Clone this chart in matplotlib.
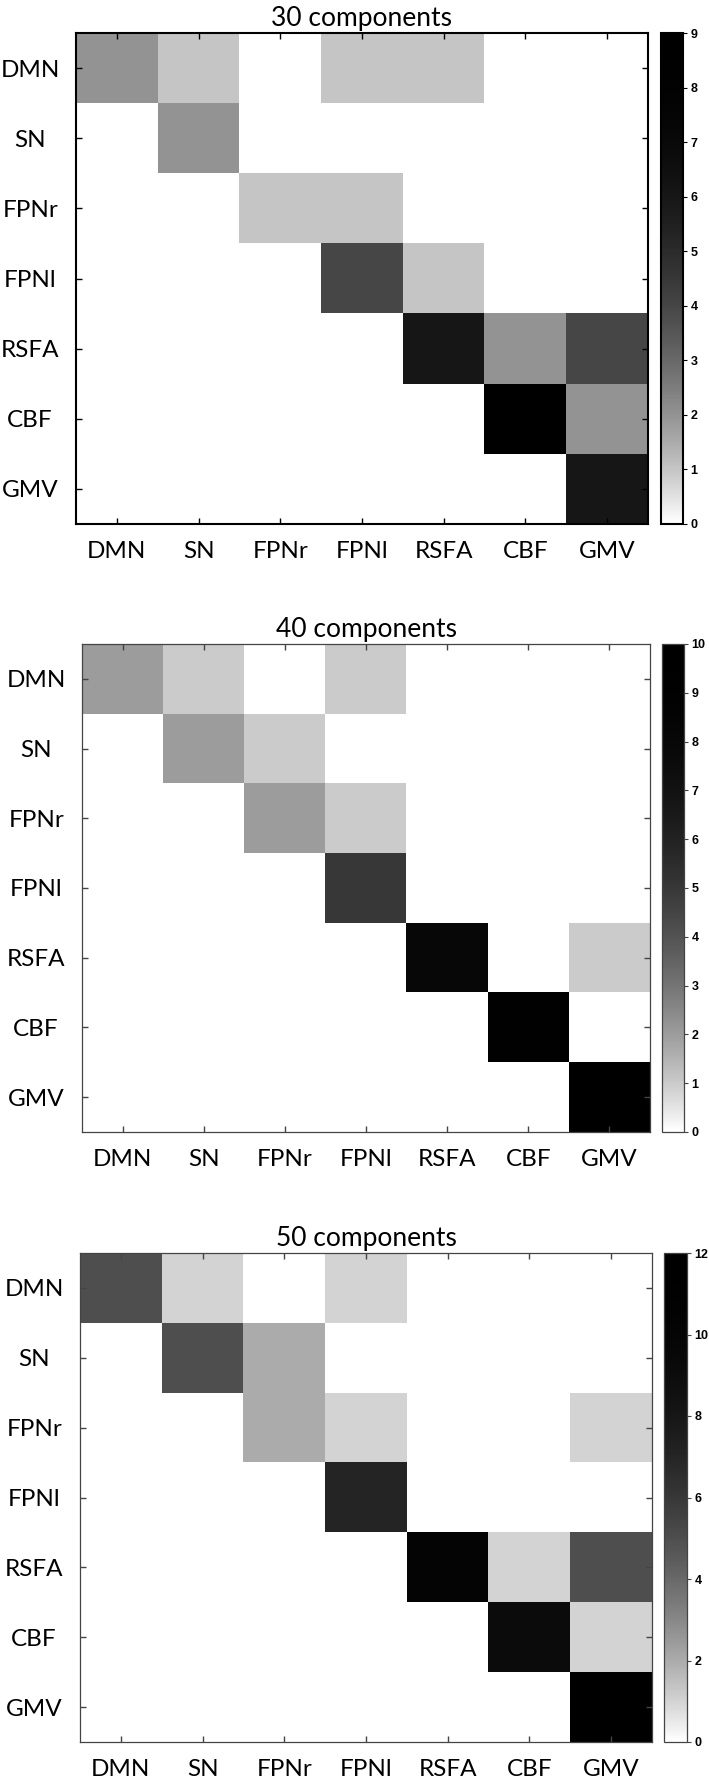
import numpy as np
import matplotlib
matplotlib.use("Agg")
import matplotlib.pyplot as plt
from matplotlib.colors import ListedColormap

# ---------------- data ----------------
networks = ["DMN", "SN", "FPNr", "FPNl", "RSFA", "CBF", "GMV"]
titles = ["30 components", "40 components", "50 components"]

comp30 = [
    [2, 1, 0, 1, 1, 0, 0],
    [0, 2, 0, 0, 0, 0, 0],
    [0, 0, 1, 1, 0, 0, 0],
    [0, 0, 0, 4, 1, 0, 0],
    [0, 0, 0, 0, 6, 2, 4],
    [0, 0, 0, 0, 0, 9, 2],
    [0, 0, 0, 0, 0, 0, 6],
]
comp40 = [
    [2, 1, 0, 1, 0, 0, 0],
    [0, 2, 1, 0, 0, 0, 0],
    [0, 0, 2, 1, 0, 0, 0],
    [0, 0, 0, 5, 0, 0, 0],
    [0, 0, 0, 0, 8, 0, 1],
    [0, 0, 0, 0, 0, 9, 0],
    [0, 0, 0, 0, 0, 0, 10],
]
comp50 = [
    [5, 1, 0, 1, 0, 0, 0],
    [0, 5, 2, 0, 0, 0, 0],
    [0, 0, 2, 1, 0, 0, 1],
    [0, 0, 0, 7, 0, 0, 0],
    [0, 0, 0, 0, 10, 1, 5],
    [0, 0, 0, 0, 0, 9, 1],
    [0, 0, 0, 0, 0, 0, 12],
]
vmaxes = [9, 10, 12]
cbar_ticks = [list(range(0, 10)), list(range(0, 11)), list(range(0, 13, 2))]

# ---------------- style ----------------
W, H = 709, 1778
fig = plt.figure(figsize=(W / 100, H / 100), dpi=100)

t = np.linspace(0, 1, 256)
g = (1 - t) ** 2.2
cmap = ListedColormap(np.stack([g, g, g], axis=1))

# pixel boxes: (left, right, top, bottom) for axes and colorbar
ax_boxes = [(76, 648, 33, 524), (82, 650, 644, 1132), (80, 652, 1253, 1742)]
cb_boxes = [(661, 683), (662, 684), (664, 687)]
spine_lw = [1.5, 0.9, 0.9]
spine_col = ["black", "#444444", "#444444"]

def frac(l, r, tp, b):
    return [l / W, 1 - b / H, (r - l) / W, (b - tp) / H]

label_font = "Lato"

for i, mat in enumerate([comp30, comp40, comp50]):
    l, r, tp, b = ax_boxes[i]
    ax = fig.add_axes(frac(l, r, tp, b))
    data = np.array(mat, dtype=float)
    im = ax.imshow(data, cmap=cmap, vmin=0, vmax=vmaxes[i], aspect="auto",
                   interpolation="nearest")
    ax.set_xticks(range(len(networks)))
    ax.set_yticks(range(len(networks)))
    ax.set_xticklabels(networks, fontsize=17.5, family=label_font)
    ax.set_yticklabels(networks, fontsize=17.5, family=label_font)
    ax.tick_params(axis="both", which="both", direction="in", top=True,
                   right=True, length=4.5, width=1.0, color=spine_col[i])
    ax.tick_params(axis="x", pad=12)
    ax.tick_params(axis="y", pad=33)
    for lab in ax.get_yticklabels():
        lab.set_horizontalalignment("center")
    for s in ax.spines.values():
        s.set_linewidth(spine_lw[i])
        s.set_color(spine_col[i])
    ax.set_title(titles[i], fontsize=19, family=label_font, pad=5)

    cl, cr = cb_boxes[i]
    cax = fig.add_axes(frac(cl, cr, tp, b))
    cb = fig.colorbar(im, cax=cax, ticks=cbar_ticks[i])
    cb.outline.set_linewidth(spine_lw[i])
    cb.outline.set_edgecolor(spine_col[i])
    cax.tick_params(direction="out", length=3, width=0.8, pad=2.5,
                    labelsize=9, color=spine_col[i])
    for lab in cax.get_yticklabels():
        lab.set_family("Liberation Sans")
        lab.set_fontweight("bold")

fig.savefig("out.png", dpi=100)
